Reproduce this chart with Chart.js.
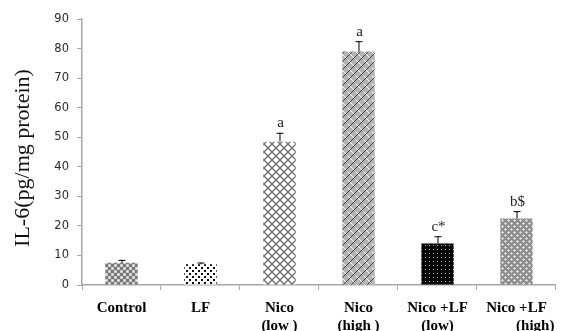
<!DOCTYPE html>
<html>
<head>
<meta charset="utf-8">
<script src="https://cdn.jsdelivr.net/npm/chart.js@4/dist/chart.umd.min.js"></script>
<style>
  html, body { margin: 0; padding: 0; background: #fff; }
  #wrap { width: 564px; height: 331px; }
</style>
</head>
<body>
<div id="wrap"><canvas id="chart"></canvas></div>
<script>
// Data
const categories = [
    ['Control'],
    ['LF'],
    ['Nico', '(low )'],
    ['Nico', '(high )'],
    ['Nico +LF', '(low)'],
    ['Nico +LF', '          (high)']
];
const meanValues = [7.5, 7.0, 48.5, 79.0, 14.0, 22.5];
const errorValues = [1.0, 0.6, 3.0, 3.5, 2.5, 2.5];
const sigLabels = ['', '', 'a', 'a', 'c*', 'b$'];
const yTicks = [0, 10, 20, 30, 40, 50, 60, 70, 80, 90];
const yTitle = 'IL-6(pg/mg protein)';

const AXIS_COLOR = '#a6a6a6';

// Build a small tiled pattern
function makePattern(size, draw) {
    const c = document.createElement('canvas');
    c.width = size;
    c.height = size;
    const g = c.getContext('2d');
    draw(g, size);
    return g.createPattern(c, 'repeat');
}

const patterns = [
    // Control: grey with white spots
    makePattern(6, (g, s) => {
        g.fillStyle = '#7a7a7a'; g.fillRect(0, 0, s, s);
        g.fillStyle = '#c8c8c8'; g.fillRect(0, 0, 3, 3); g.fillRect(3, 3, 3, 3);
        g.fillStyle = '#ffffff'; g.fillRect(1, 1, 1, 1); g.fillRect(4, 4, 1, 1);
    }),
    // LF: black dots on white
    makePattern(6, (g, s) => {
        g.fillStyle = '#ffffff'; g.fillRect(0, 0, s, s);
        g.fillStyle = '#111111'; g.fillRect(0, 0, 2, 2); g.fillRect(3, 3, 2, 2);
    }),
    // Nico low: diagonal crosshatch
    makePattern(8, (g, s) => {
        g.fillStyle = '#ffffff'; g.fillRect(0, 0, s, s);
        g.strokeStyle = '#6e6e6e'; g.lineWidth = 1.3;
        g.beginPath();
        g.moveTo(0, 0); g.lineTo(s, s);
        g.moveTo(s, 0); g.lineTo(0, s);
        g.stroke();
    }),
    // Nico high: weave
    makePattern(8, (g, s) => {
        g.fillStyle = '#b4b4b4'; g.fillRect(0, 0, s, s);
        g.strokeStyle = '#222222'; g.lineWidth = 0.8;
        g.beginPath();
        g.moveTo(0, 4); g.lineTo(4, 0);
        g.moveTo(4, 8); g.lineTo(8, 4);
        g.stroke();
        g.strokeStyle = '#ffffff'; g.lineWidth = 1;
        g.beginPath();
        g.moveTo(4, 4); g.lineTo(8, 8);
        g.moveTo(0, 0); g.lineTo(2, 2);
        g.stroke();
    }),
    // Nico+LF low: black with white dots
    makePattern(4, (g, s) => {
        g.fillStyle = '#050505'; g.fillRect(0, 0, s, s);
        g.fillStyle = '#bdbdbd'; g.fillRect(1, 1, 1, 1);
    }),
    // Nico+LF high: grey diamond dots
    makePattern(6, (g, s) => {
        g.fillStyle = '#8c8c8c'; g.fillRect(0, 0, s, s);
        g.fillStyle = '#d8d8d8'; g.fillRect(1, 0, 1, 1); g.fillRect(0, 1, 3, 1); g.fillRect(1, 2, 1, 1);
        g.fillRect(4, 3, 1, 1); g.fillRect(3, 4, 3, 1); g.fillRect(4, 5, 1, 1);
    })
];

// Upper error bars plus significance letters
const errorBarPlugin = {
    id: 'errorBars',
    afterDatasetsDraw(chart) {
        const ctx = chart.ctx;
        const meta = chart.getDatasetMeta(0);
        const yScale = chart.scales.y;
        ctx.save();
        meta.data.forEach((bar, i) => {
            const x = bar.x;
            const yTop = yScale.getPixelForValue(meanValues[i]);
            const yErr = yScale.getPixelForValue(meanValues[i] + errorValues[i]);
            ctx.strokeStyle = '#000';
            ctx.lineWidth = 1;
            ctx.beginPath();
            ctx.moveTo(x + 0.5, yTop);
            ctx.lineTo(x + 0.5, yErr);
            ctx.moveTo(x - 3, yErr + 0.5);
            ctx.lineTo(x + 4, yErr + 0.5);
            ctx.stroke();
            if (sigLabels[i]) {
                ctx.fillStyle = '#222';
                ctx.font = '15px "Liberation Serif", serif';
                ctx.textAlign = 'center';
                ctx.textBaseline = 'bottom';
                ctx.fillText(sigLabels[i], x + 1, yErr - 2);
            }
        });
        ctx.restore();
    }
};

// Rotated y-axis title, set a little below the plot centre as in the figure
const yTitlePlugin = {
    id: 'yTitle',
    afterDraw(chart) {
        const ctx = chart.ctx;
        const area = chart.chartArea;
        ctx.save();
        ctx.translate(23, (area.top + area.bottom) / 2 + 6);
        ctx.rotate(-Math.PI / 2);
        ctx.fillStyle = '#111';
        ctx.font = '22px "Liberation Serif", serif';
        ctx.textAlign = 'center';
        ctx.textBaseline = 'middle';
        ctx.fillText(yTitle, 0, 0);
        ctx.restore();
    }
};

new Chart(document.getElementById('chart'), {
    type: 'bar',
    data: {
        labels: categories,
        datasets: [{
            data: meanValues,
            backgroundColor: patterns,
            borderWidth: 0,
            categoryPercentage: 1.0,
            barPercentage: 0.41
        }]
    },
    options: {
        responsive: true,
        maintainAspectRatio: false,
        animation: false,
        layout: { padding: { top: 19, right: 7, left: 0, bottom: 0 } },
        plugins: {
            legend: { display: false },
            tooltip: { enabled: false }
        },
        scales: {
            x: {
                grid: {
                    display: true,
                    drawOnChartArea: false,
                    offset: true,
                    tickLength: 5,
                    color: AXIS_COLOR
                },
                border: { color: AXIS_COLOR, width: 1.5 },
                ticks: {
                    color: '#000',
                    padding: 9,
                    maxRotation: 0,
                    autoSkip: false,
                    font: { family: '"Liberation Serif", serif', size: 15, weight: 'bold', lineHeight: 1.2 }
                },
                afterFit: scale => { scale.height = 46; }
            },
            y: {
                min: 0,
                max: 90,
                afterBuildTicks: scale => { scale.ticks = yTicks.map(v => ({ value: v })); },
                grid: {
                    display: true,
                    drawOnChartArea: false,
                    tickLength: 5,
                    color: AXIS_COLOR
                },
                border: { color: AXIS_COLOR, width: 1.5 },
                ticks: {
                    color: '#2a2a2a',
                    padding: 8,
                    font: { family: '"DejaVu Sans", Verdana, sans-serif', size: 11.5 }
                },
                afterFit: scale => { scale.width = 82; }
            }
        }
    },
    plugins: [errorBarPlugin, yTitlePlugin]
});
</script>
</body>
</html>
